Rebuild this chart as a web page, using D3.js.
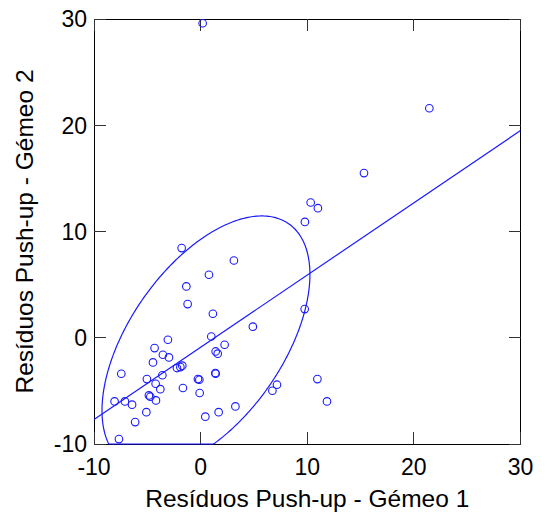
<!DOCTYPE html>
<html>
<head>
<meta charset="utf-8">
<script src="https://cdn.jsdelivr.net/npm/d3@7"></script>
<style>
  body { margin: 0; background: #fff; }
  text { font-family: Arial, "Liberation Sans", sans-serif; fill: #000; }
</style>
</head>
<body>
<script>

// residuals, twin 1 (x) vs twin 2 (y)
var gemeo1 = [0.19, 21.45, 15.32, 10.32, 11.0, 9.78, -1.78, 3.12, 0.78, -1.34,
    -1.22, 9.76, 1.15, 4.9, -3.07, 1.0, 2.25, -4.32, -3.54, -2.97,
    1.41, 1.6, -4.47, -2.22, -1.9, -1.72, -7.44, -3.59, 1.38, -5.04,
    -0.25, -0.12, -4.22, -1.66, -3.78, -0.09, -4.85, -4.72, -4.19, -8.07,
    -7.1, -6.43, -5.09, 0.44, 1.69, 3.26, -6.14, -7.66, 7.16, 6.73,
    10.95, 11.85, 1.41];
var gemeo2 = [29.6, 21.6, 15.5, 12.73, 12.2, 10.9, 8.44, 7.27, 5.93, 4.83,
    3.17, 2.7, 2.26, 1.04, -0.19, 0.12, -0.66, -0.97, -1.6, -1.85,
    -1.29, -1.5, -2.32, -2.85, -2.76, -2.63, -3.39, -3.53, -3.32, -3.89,
    -3.89, -3.95, -4.33, -4.73, -4.84, -5.2, -5.43, -5.55, -5.9, -5.99,
    -5.99, -6.3, -7.0, -7.43, -7.0, -6.46, -7.94, -9.54, -4.42, -4.99,
    -3.89, -5.99, -3.39];

var xTicks = [-10, 0, 10, 20, 30];
var yTicks = [-10, 0, 10, 20, 30];

// fitted line y = a + b*x
var regIntercept = -0.9, regSlope = 0.68;
// ellipse: centre and cholesky factor of its shape matrix
var ellCentre = [0.5, -0.45];
var ellL = [9.75, 6.4, 10.05]; // l11, l21, l22

var xLabel = "Resíduos Push-up - Gémeo 1";
var yLabel = "Resíduos Push-up - Gémeo 2";

var margin = { top: 19, right: 26.5, bottom: 72, left: 94 };
var width = 547 - margin.left - margin.right,
    height = 516 - margin.top - margin.bottom;

var svg = d3.select("body").append("svg")
    .attr("width", 547)
    .attr("height", 516)
    .append("g")
    .attr("transform", "translate(" + margin.left + "," + margin.top + ")");

var x = d3.scaleLinear().domain([-10, 30]).range([0, width]);
var y = d3.scaleLinear().domain([-10, 30]).range([height, 0]);

var blue = "#1a1aff";
var tickLen = 12;

// box first, the clipped ellipse sits on top of its bottom edge
svg.append("rect")
    .attr("width", width).attr("height", height)
    .attr("fill", "none").attr("stroke", "#000")
    .attr("shape-rendering", "crispEdges");

// ticks, pointing inwards on all four sides
var tk = svg.append("g").attr("stroke", "#333").attr("shape-rendering", "crispEdges");
xTicks.forEach(function (d) {
    tk.append("line").attr("x1", x(d)).attr("x2", x(d)).attr("y1", height).attr("y2", height - tickLen);
    tk.append("line").attr("x1", x(d)).attr("x2", x(d)).attr("y1", 0).attr("y2", tickLen);
});
yTicks.forEach(function (d) {
    tk.append("line").attr("y1", y(d)).attr("y2", y(d)).attr("x1", 0).attr("x2", tickLen);
    tk.append("line").attr("y1", y(d)).attr("y2", y(d)).attr("x1", width).attr("x2", width - tickLen);
});

svg.append("g").selectAll("text").data(xTicks).enter().append("text")
    .attr("x", function (d) { return x(d); })
    .attr("y", height + 31)
    .attr("text-anchor", "middle")
    .style("font-size", "23px")
    .text(function (d) { return d; });

svg.append("g").selectAll("text").data(yTicks).enter().append("text")
    .attr("x", -7)
    .attr("y", function (d) { return y(d); })
    .attr("dy", "0.36em")
    .attr("text-anchor", "end")
    .style("font-size", "23px")
    .text(function (d) { return d; });

// regression line across the whole x range
svg.append("line")
    .attr("x1", x(-10)).attr("y1", y(regIntercept + regSlope * -10))
    .attr("x2", x(30)).attr("y2", y(regIntercept + regSlope * 30))
    .attr("stroke", blue).attr("stroke-width", 1.2);

// ellipse, squashed onto the bottom edge where it leaves the axes
var ts = d3.range(0, 2 * Math.PI + 0.001, Math.PI / 180);
var ellLine = d3.line()
    .x(function (t) { return x(ellCentre[0] + ellL[0] * Math.cos(t)); })
    .y(function (t) {
        var v = ellCentre[1] + ellL[1] * Math.cos(t) + ellL[2] * Math.sin(t);
        return y(Math.max(v, -10));
    });
svg.append("path")
    .attr("d", ellLine(ts))
    .attr("fill", "none")
    .attr("stroke", blue)
    .attr("stroke-width", 1.2);

svg.append("g").selectAll("circle").data(gemeo1).enter().append("circle")
    .attr("cx", function (d) { return x(d); })
    .attr("cy", function (d, i) { return y(gemeo2[i]); })
    .attr("r", 3.8)
    .attr("fill", "none")
    .attr("stroke", blue)
    .attr("stroke-width", 1.1);

svg.append("text")
    .attr("x", width / 2)
    .attr("y", height + 63)
    .attr("text-anchor", "middle")
    .style("font-size", "24.5px")
    .text(xLabel);

svg.append("text")
    .attr("transform", "translate(" + (33 - margin.left) + "," + (height / 2) + ")rotate(-90)")
    .attr("text-anchor", "middle")
    .style("font-size", "24.5px")
    .text(yLabel);

</script>
</body>
</html>
